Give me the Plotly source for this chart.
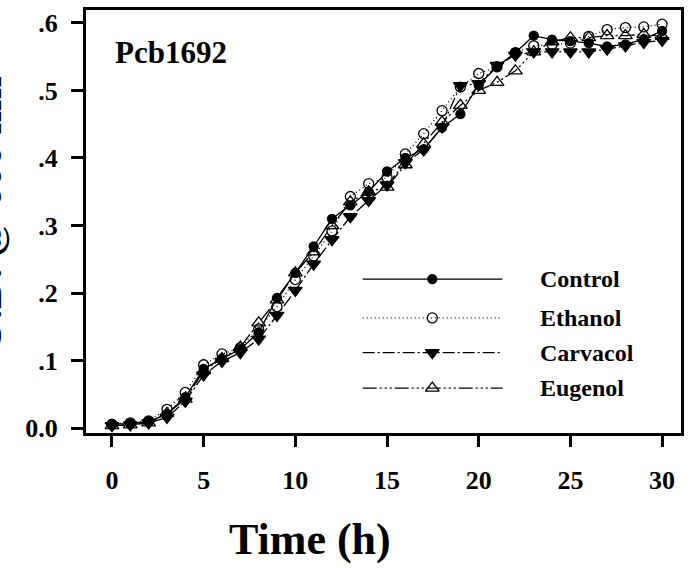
import plotly.graph_objects as go

time_h = list(range(31))
control = [0.006,0.007,0.010,0.021,0.046,0.088,0.103,0.117,0.142,0.193,0.230,0.269,0.310,0.330,0.350,0.380,0.400,0.413,0.445,0.465,0.508,0.535,0.556,0.581,0.575,0.573,0.570,0.565,0.568,0.576,0.588]
ethanol = [0.006,0.008,0.011,0.028,0.053,0.094,0.110,0.119,0.147,0.180,0.220,0.255,0.292,0.343,0.362,0.371,0.406,0.436,0.470,0.505,0.525,0.535,0.556,0.566,0.568,0.570,0.580,0.590,0.593,0.594,0.598]
carvacol = [0.004,0.005,0.008,0.016,0.040,0.079,0.099,0.112,0.132,0.167,0.204,0.243,0.279,0.313,0.337,0.360,0.393,0.412,0.446,0.507,0.510,0.537,0.552,0.557,0.557,0.557,0.557,0.561,0.566,0.571,0.574]
eugenol = [0.004,0.005,0.008,0.022,0.043,0.085,0.103,0.120,0.156,0.190,0.230,0.261,0.300,0.335,0.350,0.357,0.390,0.421,0.453,0.478,0.500,0.512,0.529,0.557,0.572,0.578,0.578,0.581,0.581,0.583,0.580]

series_names = ["Control", "Ethanol", "Carvacol", "Eugenol"]
series_values = [control, ethanol, carvacol, eugenol]
x_ticks = [0, 5, 10, 15, 20, 25, 30]
y_ticks = [0.0, 0.1, 0.2, 0.3, 0.4, 0.5, 0.6]
y_ticktext = ["0.0", ".1", ".2", ".3", ".4", ".5", ".6"]

styles = [
    dict(dash="solid", symbol="circle", size=9),
    dict(dash="1px,3px", symbol="circle-open", size=10),
    dict(dash="12px,3px,2px,3px", symbol="triangle-down", size=12),
    dict(dash="14px,3px,2px,3px,2px,3px,2px,3px", symbol="triangle-up-open", size=12),
]

FONT = "Liberation Serif"
fig = go.Figure()

for name, vals, st in zip(series_names, series_values, styles):
    fig.add_trace(go.Scatter(
        x=time_h, y=vals, mode="lines+markers", name=name, showlegend=False,
        line=dict(color="black", width=1.3, dash=st["dash"]),
        marker=dict(symbol=st["symbol"], size=st["size"], color="black",
                    line=dict(color="black", width=1.3)),
    ))

# manual legend on an overlay axis spanning the plot (0..1)
leg_x0, leg_xm, leg_x1, leg_text_x = 0.465, 0.582, 0.70, 0.759
leg_rows = [0.364, 0.272, 0.190, 0.106]
for name, st, yy in zip(series_names, styles, leg_rows):
    fig.add_trace(go.Scatter(
        x=[leg_x0, leg_x1], y=[yy, yy], mode="lines", xaxis="x2", yaxis="y2",
        showlegend=False, hoverinfo="skip",
        line=dict(color="black", width=1.3, dash=st["dash"]),
    ))
    fig.add_trace(go.Scatter(
        x=[leg_xm], y=[yy], mode="markers", xaxis="x2", yaxis="y2",
        showlegend=False, hoverinfo="skip",
        marker=dict(symbol=st["symbol"], size=st["size"], color="black",
                    line=dict(color="black", width=1.3)),
    ))
    fig.add_annotation(x=leg_text_x, y=yy, xref="paper", yref="paper", text=f"<b>{name}</b>",
                       showarrow=False, xanchor="left", yanchor="middle",
                       font=dict(family=FONT, size=24, color="black"))

fig.add_annotation(x=0.046, y=0.899, xref="paper", yref="paper", text="<b>Pcb1692</b>",
                   showarrow=False, xanchor="left", yanchor="middle",
                   font=dict(family=FONT, size=31, color="black"))
fig.add_annotation(x=0.376, y=-0.251, xref="paper", yref="paper", text="<b>Time (h)</b>",
                   showarrow=False, xanchor="center", yanchor="middle",
                   font=dict(family=FONT, size=44, color="black"))
fig.add_annotation(x=-0.166, y=0.518, xref="paper", yref="paper", text="<b>O.D. @ 600 nm</b>",
                   showarrow=False, xanchor="center", yanchor="middle", textangle=-90,
                   font=dict(family=FONT, size=42, color="black"))

fig.update_layout(
    width=691, height=568,
    margin=dict(l=86, r=9, t=7, b=135),
    paper_bgcolor="white", plot_bgcolor="white",
    font=dict(family=FONT, color="black"),
    xaxis=dict(range=[-1.415, 31.03], tickvals=x_ticks, ticks="outside", ticklen=11, tickwidth=3,
               tickcolor="black", showline=True, linewidth=3, linecolor="black", mirror=True,
               showgrid=False, zeroline=False, ticklabelstandoff=11,
               tickfont=dict(family=FONT, size=26, color="black", weight="bold")),
    yaxis=dict(range=[-0.007, 0.619], tickvals=y_ticks, ticktext=y_ticktext, ticks="outside",
               ticklen=12, tickwidth=3, tickcolor="black", showline=True, linewidth=3,
               linecolor="black", mirror=True, showgrid=False, zeroline=False,
               ticklabelstandoff=8,
               tickfont=dict(family=FONT, size=26, color="black", weight="bold")),
    xaxis2=dict(range=[0, 1], overlaying="x", visible=False, fixedrange=True),
    yaxis2=dict(range=[0, 1], overlaying="y", visible=False, fixedrange=True),
)

fig.write_html("out.html")
